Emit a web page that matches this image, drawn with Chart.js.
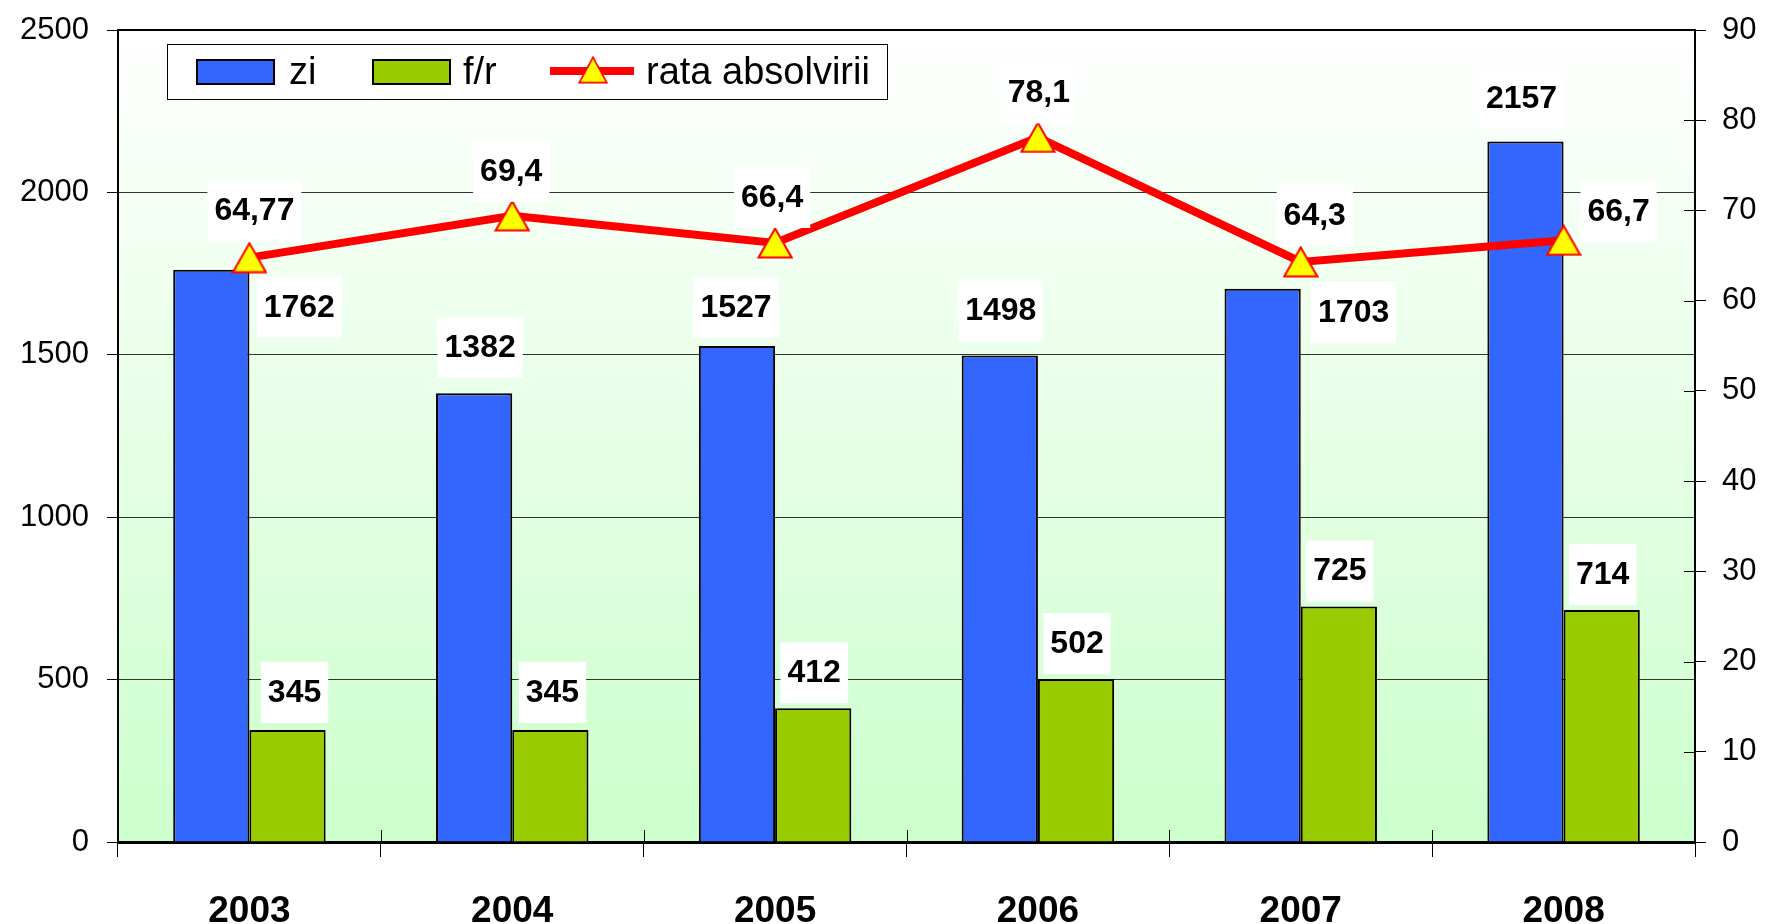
<!DOCTYPE html>
<html>
<head>
<meta charset="utf-8">
<script src="https://cdn.jsdelivr.net/npm/chart.js@4.4.0/dist/chart.umd.min.js"></script>
<style>
  html, body { margin: 0; padding: 0; background: #fff; }
</style>
</head>
<body>
<canvas id="chart" width="1765" height="924"></canvas>
<script>
// data
const years = ['2003', '2004', '2005', '2006', '2007', '2008'];
const zi = [1762, 1382, 1527, 1498, 1703, 2157];
const fr = [345, 345, 412, 502, 725, 714];
const rata = [64.77, 69.4, 66.4, 78.1, 64.3, 66.7];
const rataText = ['64,77', '69,4', '66,4', '78,1', '64,3', '66,7'];
const leftMax = 2500, leftStep = 500;
const rightMax = 90, rightStep = 10;

// where each value label sits, relative to its bar top / marker
const ziOffsets = [[88, 37], [6, -46], [-1, -39], [1, -45], [91, 23], [-4, -43]];
const frOffsets = [[7, -38], [2, -38], [1, -36], [1, -36], [1, -36], [1, -36]];
const rataOffsets = [[5, -47], [-1, -45], [-3, -46], [1, -45], [14, -47], [55, -29]];

const FONT = '"Liberation Sans", Arial, sans-serif';

// yellow triangle marker, centred on its bounding box like the original
function makeTriangle(w, h) {
  const c = document.createElement('canvas');
  c.width = w; c.height = h;
  const g = c.getContext('2d');
  g.beginPath();
  g.moveTo(w / 2, 1.5);
  g.lineTo(w - 1.5, h - 1.5);
  g.lineTo(1.5, h - 1.5);
  g.closePath();
  g.fillStyle = '#ffff00';
  g.fill();
  g.lineWidth = 2;
  g.strokeStyle = '#ff0000';
  g.lineJoin = 'miter';
  g.stroke();
  return c;
}
const triangle = makeTriangle(36, 32);

// background gradient + white page
const backgroundPlugin = {
  id: 'bg',
  beforeDraw(chart) {
    const { ctx, chartArea: a } = chart;
    ctx.save();
    ctx.fillStyle = '#fff';
    ctx.fillRect(0, 0, chart.width, chart.height);
    const grad = ctx.createLinearGradient(0, a.top, 0, a.bottom);
    grad.addColorStop(0, '#ffffff');
    grad.addColorStop(1, '#ccffcc');
    ctx.fillStyle = grad;
    ctx.fillRect(a.left, a.top, a.right - a.left, a.bottom - a.top);
    ctx.restore();
  }
};

// top border and the inner half of crossing tick marks
const framePlugin = {
  id: 'frame',
  beforeDatasetsDraw(chart) {
    const { ctx, chartArea: a } = chart;
    ctx.save();
    ctx.strokeStyle = '#000';
    ctx.lineWidth = 2;
    ctx.beginPath();
    ctx.moveTo(a.left - 1, a.top);
    ctx.lineTo(a.right + 1, a.top);
    ctx.stroke();

    ctx.lineWidth = 1;
    const y1 = chart.scales.y1;
    for (let v = 0; v <= rightMax; v += rightStep) {
      const py = Math.round(y1.getPixelForValue(v)) + 0.5;
      ctx.beginPath();
      ctx.moveTo(a.right - 11, py);
      ctx.lineTo(a.right, py);
      ctx.stroke();
    }
    const x = chart.scales.x;
    for (let i = 0; i <= years.length; i++) {
      const px = Math.round(x.getPixelForValue(i - 0.5)) + 0.5;
      ctx.beginPath();
      ctx.moveTo(px, a.bottom - 12);
      ctx.lineTo(px, a.bottom);
      ctx.stroke();
    }
    ctx.restore();
  }
};

// value labels on white boxes
const labelPlugin = {
  id: 'valueLabels',
  afterDatasetsDraw(chart) {
    const ctx = chart.ctx;
    ctx.save();
    ctx.font = 'bold 32px ' + FONT;
    ctx.textAlign = 'center';
    ctx.textBaseline = 'middle';
    chart.data.datasets.forEach((ds, di) => {
      const meta = chart.getDatasetMeta(di);
      meta.data.forEach((el, i) => {
        const text = ds.labelTexts ? ds.labelTexts[i] : String(ds.data[i]);
        const off = ds.labelOffsets[i];
        const cx = el.x + off[0];
        const cy = el.y + off[1];
        const w = ctx.measureText(text).width + 14;
        ctx.fillStyle = '#fff';
        ctx.fillRect(cx - w / 2, cy - 30, w, 61);
        ctx.fillStyle = '#000';
        ctx.fillText(text, cx, cy + 1);
      });
    });
    ctx.restore();
  }
};

// legend drawn as in the original: framed box, one row
const legendPlugin = {
  id: 'boxLegend',
  afterDraw(chart) {
    const ctx = chart.ctx;
    const ds = chart.data.datasets;
    ctx.save();
    ctx.fillStyle = '#fff';
    ctx.fillRect(167, 44, 721, 56);
    ctx.strokeStyle = '#000';
    ctx.lineWidth = 1;
    ctx.strokeRect(167.5, 44.5, 720, 55);

    ctx.font = '38px ' + FONT;
    ctx.textBaseline = 'alphabetic';
    ctx.textAlign = 'left';

    const bars = [[ds[0], 197, 289], [ds[1], 373, 463]];
    bars.forEach(([d, bx, tx]) => {
      ctx.fillStyle = d.backgroundColor;
      ctx.fillRect(bx, 60, 77, 24);
      ctx.lineWidth = 2;
      ctx.strokeStyle = '#000';
      ctx.strokeRect(bx, 60, 77, 24);
      ctx.fillStyle = '#000';
      ctx.fillText(d.label, tx, 84);
    });

    const ln = ds[2];
    ctx.strokeStyle = ln.borderColor;
    ctx.lineWidth = ln.borderWidth;
    ctx.beginPath();
    ctx.moveTo(550, 71);
    ctx.lineTo(634, 71);
    ctx.stroke();
    ctx.drawImage(triangle, 593 - 15, 56, 30, 28);
    ctx.fillStyle = '#000';
    ctx.fillText(ln.label, 646, 84);
    ctx.restore();
  }
};

const ctx = document.getElementById('chart').getContext('2d');
new Chart(ctx, {
  type: 'bar',
  data: {
    labels: years,
    datasets: [
      {
        label: 'zi',
        data: zi,
        yAxisID: 'y',
        backgroundColor: '#3366ff',
        borderColor: '#000',
        borderWidth: 2,
        categoryPercentage: 0.58,
        barPercentage: 1.0,
        order: 1,
        labelOffsets: ziOffsets
      },
      {
        label: 'f/r',
        data: fr,
        yAxisID: 'y',
        backgroundColor: '#99cc00',
        borderColor: '#000',
        borderWidth: 2,
        categoryPercentage: 0.58,
        barPercentage: 1.0,
        order: 1,
        labelOffsets: frOffsets
      },
      {
        type: 'line',
        label: 'rata absolvirii',
        data: rata,
        yAxisID: 'y1',
        borderColor: '#ff0000',
        borderWidth: 8,
        tension: 0,
        pointStyle: triangle,
        pointRadius: 18,
        pointHoverRadius: 18,
        order: 0,
        clip: false,
        labelTexts: rataText,
        labelOffsets: rataOffsets
      }
    ]
  },
  options: {
    responsive: false,
    animation: false,
    devicePixelRatio: 1,
    layout: { padding: { top: 30, left: 0, right: 0, bottom: 0 } },
    plugins: {
      legend: { display: false },
      tooltip: { enabled: false }
    },
    scales: {
      x: {
        grid: {
          offset: true,
          drawOnChartArea: false,
          tickLength: 15,
          tickColor: '#000',
          tickWidth: 1
        },
        border: { display: true, color: '#000', width: 3 },
        ticks: {
          color: '#000',
          padding: 33,
          font: { family: FONT, size: 37, weight: 'bold' }
        },
        afterFit: s => { s.height = 82; }
      },
      y: {
        position: 'left',
        min: 0,
        max: leftMax,
        ticks: {
          stepSize: leftStep,
          color: '#000',
          padding: 18,
          font: { family: FONT, size: 31 },
          callback: v => String(v)
        },
        grid: {
          color: c => (c.tick && (c.tick.value === 0 || c.tick.value === leftMax)) ? 'rgba(0,0,0,0)' : '#333',
          lineWidth: 1,
          tickLength: 11,
          tickColor: '#000'
        },
        border: { display: true, color: '#000', width: 2 },
        afterFit: s => { s.width = 118; s.paddingTop = 0; s.paddingBottom = 0; }
      },
      y1: {
        position: 'right',
        min: 0,
        max: rightMax,
        ticks: {
          stepSize: rightStep,
          color: '#000',
          padding: 16,
          font: { family: FONT, size: 31 },
          callback: v => String(v)
        },
        grid: {
          drawOnChartArea: false,
          tickLength: 11,
          tickColor: '#000'
        },
        border: { display: true, color: '#000', width: 2 },
        afterFit: s => { s.width = 70; s.paddingTop = 0; s.paddingBottom = 0; }
      }
    }
  },
  plugins: [backgroundPlugin, framePlugin, labelPlugin, legendPlugin]
});
</script>
</body>
</html>
